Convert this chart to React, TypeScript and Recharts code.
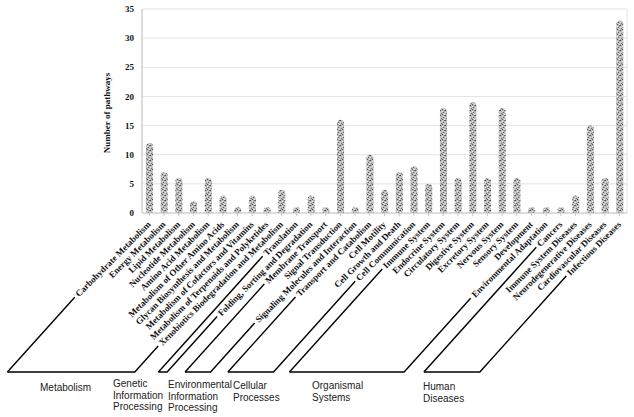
import React from "react";
import { BarChart, Bar, XAxis, YAxis, CartesianGrid } from "recharts";

const categories = [
  "Carbohydrate Metabolism",
  "Energy Metabolism",
  "Lipid Metabolism",
  "Nucleotide Metabolism",
  "Amino Acid Metabolism",
  "Metabolism of Other Amino Acids",
  "Glycan Biosynthesis and Metabolism",
  "Metabolism of Cofactors and Vitamins",
  "Metabolism of Terpenoids and Polyketides",
  "Xenobiotics Biodegradation and Metabolism",
  "Translation",
  "Folding, Sorting and Degradation",
  "Membrane Transport",
  "Signal Transduction",
  "Signaling Molecules and Interaction",
  "Transport and Catabolism",
  "Cell Motility",
  "Cell Growth and Death",
  "Cell Communication",
  "Immune System",
  "Endocrine System",
  "Circulatory System",
  "Digestive System",
  "Excretory System",
  "Nervous System",
  "Sensory System",
  "Development",
  "Environmental Adaptation",
  "Cancers",
  "Immune System Diseases",
  "Neurodegenerative Diseases",
  "Cardiovascular Diseases",
  "Infectious Diseases",
];

const pathwayCounts = [
  12, 7, 6, 2, 6, 3, 1, 3, 1, 4, 1, 3, 1, 16, 1, 10, 4, 7, 8, 5, 18, 6, 19, 6,
  18, 6, 1, 1, 1, 3, 15, 6, 33,
];

const groupNames = [
  ["Metabolism"],
  ["Genetic", "Information", "Processing"],
  ["Environmental", "Information", "Processing"],
  ["Cellular", "Processes"],
  ["Organismal", "Systems"],
  ["Human", "Diseases"],
];
const groupSizes = [10, 2, 3, 4, 9, 5];

const yTicks = [0, 5, 10, 15, 20, 25, 30, 35];

const data = categories.map((name, i) => ({ name, count: pathwayCounts[i] }));

// group label placement (absolute, in chart pixels)
const groupLabelPos = [
  { x: 40, y: 391 },
  { x: 113, y: 387 },
  { x: 168, y: 388 },
  { x: 233, y: 389 },
  { x: 312, y: 389 },
  { x: 423, y: 390 },
];

const groupStarts: number[] = [];
groupSizes.reduce((acc, n) => {
  groupStarts.push(acc);
  return acc + n;
}, 0);
const groupEnds = groupStarts.map((s, g) => s + groupSizes[g] - 1);

const SERIF = "'Liberation Serif', 'Times New Roman', serif";
const SANS = "'Liberation Sans', Arial, sans-serif";
const LINE_ANGLE = (48 * Math.PI) / 180;

let measureCtx: CanvasRenderingContext2D | null = null;
function textWidth(s: string) {
  if (!measureCtx) {
    measureCtx = document.createElement("canvas").getContext("2d");
  }
  if (!measureCtx) return s.length * 4.5;
  measureCtx.font = `bold 9px ${SERIF}`;
  return measureCtx.measureText(s).width;
}

const feet: Record<number, number> = {};

function renderTick(props: any) {
  const { x, y, payload } = props;
  const i = payload.index;
  const tx = x + 2;
  const ty = y + 7;
  const c = Math.SQRT1_2;
  const w = textWidth(String(payload.value));
  const g = groupStarts.findIndex((s, k) => i >= s && i <= groupEnds[k]);
  const isStart = groupStarts[g] === i;
  const isEnd = groupEnds[g] === i;

  let bracket = null;
  if (isStart || isEnd) {
    const sx = tx - (w + 3) * c - 2.2;
    const sy = ty + (w + 3) * c - 2.2;
    const baseY = y + 154;
    const fx = sx - (baseY - sy) / Math.tan(LINE_ANGLE);
    if (isStart) feet[g] = fx;
    const left = feet[g] ?? fx;
    const pos = groupLabelPos[g];
    bracket = (
      <g>
        <path
          d={
            isEnd
              ? `M${left},${baseY} L${fx},${baseY} L${sx},${sy}`
              : `M${fx},${baseY} L${sx},${sy}`
          }
          fill="none"
          stroke="#000"
          strokeWidth={1.4}
        />
        {isEnd &&
          groupNames[g].map((line, k) => (
            <text
              key={line + k}
              x={pos.x}
              y={pos.y + k * 11.5}
              fontFamily={SANS}
              fontSize={10}
              fill="#222"
            >
              {line}
            </text>
          ))}
      </g>
    );
  }

  return (
    <g>
      <text
        transform={`translate(${tx},${ty}) rotate(-45)`}
        textAnchor="end"
        fontFamily={SERIF}
        fontWeight="bold"
        fontSize={9}
        fill="#111"
      >
        {payload.value}
      </text>
      {bracket}
    </g>
  );
}

function YLabel(props: any) {
  const { viewBox } = props;
  const cx = viewBox.x + 10;
  const cy = 113;
  return (
    <text
      transform={`translate(${cx},${cy}) rotate(-90)`}
      textAnchor="middle"
      fontFamily={SERIF}
      fontWeight="bold"
      fontSize={9}
      fill="#111"
    >
      Number of pathways
    </text>
  );
}

export default function App() {
  return (
    <div style={{ position: "absolute", left: 0, top: 0, background: "#fff" }}>
      <BarChart
        width={634}
        height={417}
        data={data}
        margin={{ top: 9, right: 7, left: 100, bottom: 4 }}
        barCategoryGap={0}
      >
        <defs>
          <pattern
            id="speckle"
            patternUnits="userSpaceOnUse"
            width={5}
            height={5}
          >
            <rect width={5} height={5} fill="#bababa" />
            <rect x={0} y={0} width={1} height={1} fill="#4a4a4a" />
            <rect x={2} y={1} width={1} height={1} fill="#e6e6e6" />
            <rect x={3} y={2} width={1} height={1} fill="#5c5c5c" />
            <rect x={1} y={3} width={1} height={1} fill="#7a7a7a" />
            <rect x={4} y={4} width={1} height={1} fill="#f0f0f0" />
            <rect x={0} y={2} width={1} height={1} fill="#dcdcdc" />
            <rect x={4} y={0} width={1} height={1} fill="#6e6e6e" />
            <rect x={2} y={4} width={1} height={1} fill="#525252" />
            <rect x={3} y={3} width={1} height={1} fill="#d0d0d0" />
          </pattern>
        </defs>
        <CartesianGrid
          stroke="#e3e3e3"
          verticalCoordinatesGenerator={({ offset }: any) => [
            offset.left,
            offset.left + offset.width,
          ]}
        />
        <XAxis
          dataKey="name"
          interval={0}
          height={200}
          axisLine={{ stroke: "#c8c8c8" }}
          tickLine={{ stroke: "#c8c8c8" }}
          tickSize={3}
          tickMargin={2}
          tick={renderTick}
        />
        <YAxis
          width={42}
          domain={[0, 35]}
          ticks={yTicks}
          interval={0}
          axisLine={{ stroke: "#c8c8c8" }}
          tickLine={false}
          tickMargin={2}
          tick={{
            fontFamily: SERIF,
            fontWeight: "bold",
            fontSize: 9,
            fill: "#111",
          }}
          label={<YLabel />}
        />
        <Bar
          dataKey="count"
          barSize={7}
          fill="url(#speckle)"
          radius={[3.5, 3.5, 0, 0]}
          isAnimationActive={false}
        />
      </BarChart>
    </div>
  );
}
